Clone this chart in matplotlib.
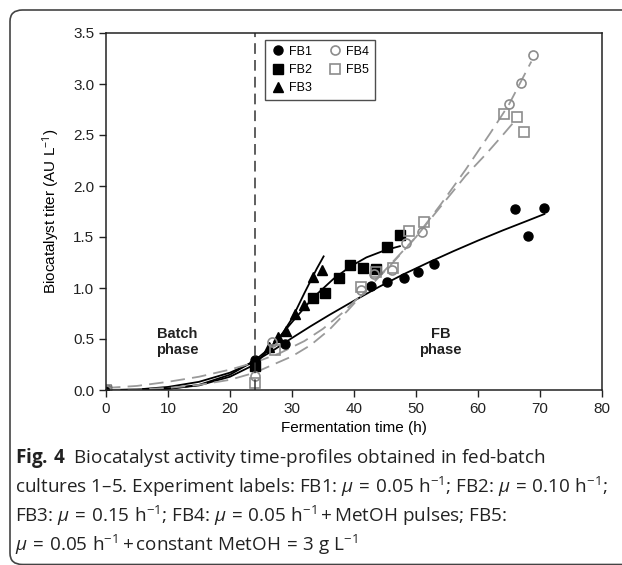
import matplotlib.pyplot as plt
from matplotlib.patches import FancyBboxPatch

plt.rcParams['font.family'] = ['Liberation Sans', 'DejaVu Sans']
plt.rcParams['mathtext.fontset'] = 'custom'
plt.rcParams['mathtext.rm'] = 'Open Sans'
plt.rcParams['mathtext.it'] = 'Open Sans:italic'
plt.rcParams['mathtext.bf'] = 'Open Sans:bold'

# measured points
fb1_t = [0, 24, 28.9, 42.8, 45.4, 48.0, 50.4, 52.9, 66.0, 68.0, 70.7]
fb1_y = [0, 0.29, 0.45, 1.02, 1.06, 1.10, 1.16, 1.24, 1.77, 1.51, 1.78]
fb2_t = [0, 24, 33.4, 35.4, 37.5, 39.4, 41.5, 43.6, 45.4, 47.4]
fb2_y = [0, 0.235, 0.905, 0.95, 1.10, 1.225, 1.20, 1.19, 1.40, 1.52]
fb3_t = [0, 24, 26.3, 27.8, 29.0, 30.5, 31.9, 33.4, 34.9]
fb3_y = [0, 0.27, 0.42, 0.52, 0.58, 0.75, 0.83, 1.11, 1.18]
fb4_t = [0, 24, 26.8, 41.1, 43.3, 46.1, 48.4, 51.0, 65.0, 66.9, 68.9]
fb4_y = [0, 0.14, 0.47, 0.98, 1.14, 1.18, 1.44, 1.55, 2.80, 3.01, 3.28]
fb5_t = [0, 24, 27.3, 41.2, 43.5, 46.3, 48.8, 51.3, 64.2, 66.3, 67.4]
fb5_y = [0, 0.07, 0.39, 1.01, 1.16, 1.20, 1.56, 1.65, 2.71, 2.68, 2.53]

# fitted curves
fit1_t = [0, 5, 10, 15, 20, 24, 27, 30, 33, 36, 40, 44, 48, 52, 56, 60, 64, 68, 70.7]
fit1_y = [0.0, 0.005, 0.03, 0.08, 0.17, 0.28, 0.39, 0.51, 0.625, 0.735, 0.875, 1.01, 1.135,
          1.25, 1.36, 1.465, 1.565, 1.66, 1.725]
fit2_t = [0, 5, 10, 15, 20, 24, 27, 30, 33.4, 36.7, 39.4, 42, 45, 47.4]
fit2_y = [0.0, 0.002, 0.012, 0.045, 0.13, 0.25, 0.45, 0.665, 0.905, 1.09, 1.21, 1.30, 1.37, 1.41]
fit3_t = [0, 5, 10, 15, 20, 24, 26, 28, 30, 32, 34, 35.1]
fit3_y = [0.0, 0.002, 0.012, 0.05, 0.15, 0.29, 0.39, 0.51, 0.70, 0.95, 1.19, 1.31]
fit4_t = [0, 5, 10, 15, 20, 24, 28, 32, 35, 38, 42, 46, 50, 54, 58, 62, 65, 68.6]
fit4_y = [0.02, 0.04, 0.08, 0.13, 0.20, 0.27, 0.36, 0.48, 0.60, 0.75, 0.98, 1.24, 1.50, 1.82,
          2.16, 2.52, 2.80, 3.22]
fit5_t = [0, 5, 10, 15, 20, 24, 27, 30, 33, 36, 39, 42, 46, 50, 54, 58, 61.4, 64, 66.1]
fit5_y = [0.0, 0.005, 0.02, 0.05, 0.10, 0.17, 0.25, 0.33, 0.44, 0.59, 0.78, 0.98, 1.23, 1.50,
          1.80, 2.10, 2.32, 2.50, 2.65]

W, H = 622, 565
fig = plt.figure(figsize=(W / 100, H / 100), dpi=100)
ax = fig.add_axes([106 / W, 1 - 390 / H, 496 / W, 357 / H])

blk = 'black'
gry = '#8c8c8c'
ax.plot(fit1_t, fit1_y, color=blk, lw=1.3)
ax.plot(fit2_t, fit2_y, color=blk, lw=1.3)
ax.plot(fit3_t, fit3_y, color=blk, lw=1.3)
ax.plot(fit4_t, fit4_y, color='#9a9a9a', lw=1.3, ls=(0, (8, 4)))
ax.plot(fit5_t, fit5_y, color='#9a9a9a', lw=1.3, ls=(0, (8, 4)))

ax.plot(fb1_t, fb1_y, 'o', color=blk, ms=6.5, ls='none', label='FB1')
ax.plot(fb2_t, fb2_y, 's', color=blk, ms=6.5, ls='none', label='FB2')
ax.plot(fb3_t, fb3_y, '^', color=blk, ms=7, ls='none', label='FB3')
ax.plot(fb4_t, fb4_y, 'o', mfc='none', mec=gry, mew=1.2, ms=6.5, ls='none', label='FB4')
ax.plot(fb5_t, fb5_y, 's', mfc='none', mec=gry, mew=1.2, ms=6.5, ls='none', label='FB5')

ax.axvline(24, color='#333333', lw=1.1, ls=(0, (7, 4)))

ax.text(11.5, 0.47, 'Batch\nphase', ha='center', va='center', fontsize=10.5,
        fontweight='bold', color='#222222', linespacing=1.2)
ax.text(54, 0.47, 'FB\nphase', ha='center', va='center', fontsize=10.5,
        fontweight='bold', color='#222222', linespacing=1.2)

ax.set_xlim(0, 80)
ax.set_ylim(0, 3.5)
ax.set_xticks(range(0, 81, 10))
ax.set_yticks([i * 0.5 for i in range(8)])
ax.set_yticklabels([f'{i * 0.5:.1f}' for i in range(8)])
ax.tick_params(direction='out', length=5, width=1, labelsize=11, colors='#222222')
for s in ax.spines.values():
    s.set_linewidth(1.1)
    s.set_color('#222222')
ax.set_xlabel('Fermentation time (h)', fontsize=11, labelpad=4)
ax.set_ylabel('Biocatalyst titer (AU L$^{-1}$)', fontsize=11, labelpad=8)

leg = ax.legend(ncol=2, loc='upper left', bbox_to_anchor=(0.3206, 0.98),
                borderaxespad=0, fontsize=9, frameon=True, fancybox=False,
                edgecolor='#222222', handletextpad=0.3, columnspacing=1.2,
                labelspacing=0.5, handlelength=1.2, borderpad=0.45)
leg.get_frame().set_linewidth(1.0)

# outer frame
frame = FancyBboxPatch((10 / W, 0.5 / H), 700 / W, (H - 10.5) / H,
                       boxstyle='round,pad=0,rounding_size=0.02',
                       transform=fig.transFigure, fill=False,
                       edgecolor='#444444', lw=1.2, clip_on=False)
fig.patches.append(frame)

cap_font = ['Open Sans', 'DejaVu Sans']
caption = [
    r'$\mathbf{Fig.\,4}$  Biocatalyst activity time-profiles obtained in fed-batch',
    r'cultures 1–5. Experiment labels: FB1: $\mathit{\mu}\,{=}\,0.05\ \mathrm{h}^{-1}$; FB2: $\mathit{\mu}\,{=}\,0.10\ \mathrm{h}^{-1}$;',
    r'FB3: $\mathit{\mu}\,{=}\,0.15\ \mathrm{h}^{-1}$; FB4: $\mathit{\mu}\,{=}\,0.05\ \mathrm{h}^{-1}\,{+}\,$MetOH pulses; FB5:',
    r'$\mathit{\mu}\,{=}\,0.05\ \mathrm{h}^{-1}\,{+}\,$constant MetOH$\,{=}\,$3 g L$^{-1}$',
]
for i, line in enumerate(caption):
    fig.text(15 / W, 1 - (458 + 29 * i) / H, line, fontsize=13.6, family=cap_font,
             va='center', ha='left', color='#222222')

fig.savefig('out.png', dpi=100)
